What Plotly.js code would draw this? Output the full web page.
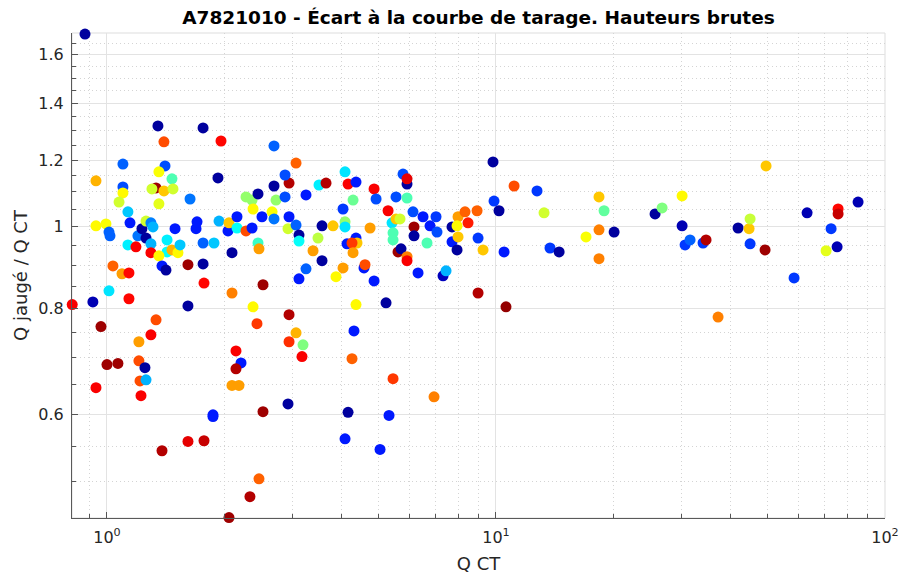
<!DOCTYPE html>
<html>
<head>
<meta charset="utf-8">
<script src="https://cdn.plot.ly/plotly-3.0.1.min.js"></script>
<style>html,body{margin:0;padding:0;background:#fff;}#chart{width:899px;height:574px;}</style>
</head>
<body>
<div id="chart"></div>
<script>
var chartTitle = 'A7821010 - Écart à la courbe de tarage. Hauteurs brutes';
var xTitle = 'Q CT';
var yTitle = 'Q jaugé / Q CT';

var qCT = [0.878,0.937,0.937,0.994,1.012,1.018,1.099,1.099,1.099,1.074,
1.132,1.146,1.132,1.187,1.201,1.230,1.260,1.260,1.297,1.313,
1.297,1.297,1.352,1.401,1.410,1.360,1.337,1.305,1.401,1.469,
1.478,1.360,1.427,1.427,1.360,1.385,1.418,1.469,1.522,1.541,
1.496,1.635,1.615,1.766,1.694,1.704,1.766,1.766,1.776,1.884,
1.929,1.964,1.941,2.047,2.096,2.059,2.159,2.159,2.277,2.277,
2.360,2.374,2.360,2.445,2.445,2.459,2.503,2.518,2.096,2.688,
2.688,2.657,2.688,2.720,2.938,2.869,2.869,2.938,2.920,3.062,
3.062,3.248,3.116,3.116,3.248,3.116,3.386,3.487,3.508,3.571,
3.571,3.657,3.811,3.879,4.044,4.044,4.092,4.092,4.092,4.140,
4.166,4.291,4.367,4.367,4.393,4.265,4.291,4.578,4.606,4.860,
4.918,4.746,4.860,5.216,5.279,5.404,5.437,5.437,5.534,5.666,
5.534,5.768,5.906,5.906,5.906,5.600,5.700,5.906,5.906,6.119,
6.156,6.156,6.304,6.493,6.648,6.767,7.053,7.012,7.310,7.441,
7.709,7.709,7.941,7.988,7.941,7.988,8.325,8.940,8.475,8.993,
9.262,9.826,9.885,10.18,10.49,11.13,12.75,13.29,13.77,14.53,
17.04,18.40,18.96,18.40,18.40,20.12,25.64,26.73,30.09,30.09,
30.63,31.54,34.06,34.67,41.91,44.73,45.00,45.00,49.17,49.46,
58.38,63.05,70.56,72.68,75.31,75.76,75.76,85.27,8.993,10.61,
37.23,5.437,2.920,4.166,5.309,4.092,5.034,6.930,2.374,4.367,
2.938,2.430,3.062,2.938,3.191,4.315,2.146,3.172,2.211,2.146,
4.265,2.096,2.184,1.036,1.093,1.139,1.012,1.139,0.920,0.814,
1.615,0.965,1.337,1.297,1.208,1.000,1.067,1.208,1.252,1.216,
1.260,0.937,1.223,2.518,1.873,1.873,1.385,1.615,1.776,2.459,
2.331,2.059];

var ratio = [1.692,1.134,1.003,1.008,0.986,0.976,1.187,1.115,1.097,1.070,
1.042,1.011,0.952,0.947,0.976,0.995,0.970,1.016,1.011,1.000,
0.955,0.932,1.317,1.261,1.181,1.162,1.112,1.109,1.103,1.140,
1.109,1.065,0.965,0.934,0.924,0.899,0.889,0.939,0.932,0.952,
0.995,1.079,0.902,1.310,0.995,1.014,0.957,0.904,0.858,0.957,
1.143,1.264,1.016,0.989,0.932,1.011,1.028,0.997,0.989,1.085,
1.076,1.050,0.997,1.094,0.957,0.942,1.028,0.854,0.835,1.247,
1.118,1.042,1.022,1.076,1.127,1.152,1.085,1.028,0.995,1.005,
1.190,1.091,0.978,0.962,0.892,0.868,0.937,0.970,1.121,1.003,
0.912,1.127,1.003,0.873,0.894,1.050,1.162,1.014,1.000,0.955,
1.124,1.076,1.130,0.970,0.957,0.957,0.932,0.894,0.902,1.109,
1.079,0.997,0.863,0.813,1.045,1.011,0.984,0.965,1.022,1.022,
1.085,1.155,1.124,1.140,1.082,0.934,0.942,0.922,0.912,1.042,
1.000,0.976,0.882,1.028,0.957,1.003,0.986,1.028,0.875,0.887,
1.000,0.960,0.939,1.028,1.003,0.973,1.042,1.045,1.011,0.970,
0.939,1.194,1.073,1.045,0.934,1.118,1.103,1.039,0.944,0.934,
0.973,1.085,1.045,0.992,0.917,0.986,1.036,1.053,1.088,1.003,
0.952,0.965,0.957,0.965,0.997,0.995,1.022,0.955,0.939,1.181,
0.870,1.039,0.937,0.995,0.947,1.050,1.036,1.070,0.835,0.804,
0.782,0.661,0.617,0.603,0.598,0.561,0.545,0.629,0.804,0.809,
0.787,0.768,0.749,0.731,0.725,0.753,0.713,0.702,0.690,0.679,
0.698,0.649,0.649,0.899,0.880,0.882,0.840,0.822,0.815,0.809,
0.806,0.762,0.776,0.745,0.731,0.687,0.689,0.694,0.681,0.657,
0.659,0.645,0.631,0.604,0.599,0.596,0.543,0.557,0.558,0.503,
0.479,0.4525];

var colorIndex = [0.03,0.70,0.63,0.62,0.22,0.22,0.22,0.20,0.63,0.58,
0.32,0.15,0.36,0.88,0.24,0.03,0.03,0.58,0.25,0.30,
0.30,0.88,0.03,0.80,0.20,0.62,0.97,0.58,0.68,0.45,
0.58,0.60,0.36,0.38,0.63,0.15,0.03,0.70,0.63,0.32,
0.15,0.24,0.97,0.03,0.15,0.15,0.22,0.03,0.87,0.32,
0.03,0.87,0.30,0.15,0.03,0.68,0.15,0.38,0.80,0.52,
0.52,0.63,0.15,0.03,0.43,0.72,0.15,0.97,0.75,0.22,
0.03,0.62,0.24,0.52,0.95,0.20,0.20,0.15,0.58,0.22,
0.78,0.15,0.03,0.38,0.22,0.15,0.72,0.56,0.36,0.03,
0.03,0.95,0.68,0.63,0.72,0.18,0.35,0.52,0.35,0.15,
0.88,0.48,0.15,0.15,0.68,0.82,0.72,0.15,0.80,0.88,
0.20,0.72,0.15,0.03,0.88,0.35,0.45,0.45,0.68,0.58,
0.20,0.20,0.03,0.90,0.45,0.97,0.03,0.75,0.88,0.20,
0.97,0.03,0.15,0.15,0.45,0.15,0.20,0.18,0.06,0.30,
0.03,0.15,0.03,0.72,0.63,0.68,0.78,0.78,0.85,0.18,
0.68,0.03,0.18,0.03,0.15,0.80,0.18,0.58,0.18,0.03,
0.62,0.68,0.47,0.75,0.75,0.03,0.03,0.50,0.63,0.05,
0.18,0.22,0.18,0.95,0.03,0.68,0.57,0.18,0.97,0.68,
0.18,0.05,0.60,0.18,0.05,0.87,0.93,0.05,0.95,0.98,
0.75,0.82,0.03,0.03,0.15,0.15,0.15,0.75,0.63,0.63,
0.95,0.82,0.70,0.83,0.50,0.15,0.88,0.88,0.15,0.95,
0.78,0.72,0.72,0.78,0.72,0.87,0.35,0.87,0.05,0.88,
0.03,0.97,0.80,0.88,0.72,0.97,0.97,0.80,0.03,0.80,
0.30,0.88,0.88,0.97,0.15,0.15,0.95,0.90,0.93,0.78,
0.95,0.97];

var xTickVals = [1, 10, 100];
var xTickText = ['10<sup>0</sup>', '10<sup>1</sup>', '10<sup>2</sup>'];
var xMinorVals = [0.9, 2, 3, 4, 5, 6, 7, 8, 9, 20, 30, 40, 50, 60, 70, 80, 90];
var yTickVals = [0.6, 0.8, 1, 1.2, 1.4, 1.6];
var yTickText = ['0.6', '0.8', '1', '1.2', '1.4', '1.6'];
var yMinorVals = [0.5, 0.55, 0.65, 0.7, 0.75, 0.85, 0.9, 0.95, 1.05, 1.1, 1.15, 1.25, 1.3, 1.35, 1.45, 1.5, 1.55, 1.65];

var jet = [[0, 'rgb(0,0,128)'], [0.125, 'rgb(0,0,255)'], [0.375, 'rgb(0,255,255)'],
           [0.625, 'rgb(255,255,0)'], [0.875, 'rgb(255,0,0)'], [1, 'rgb(128,0,0)']];

var trace = {
  type: 'scatter', mode: 'markers',
  x: qCT, y: ratio,
  cliponaxis: false,
  marker: {size: 11, color: colorIndex, colorscale: jet, cmin: 0, cmax: 1, showscale: false, line: {width: 0}},
  hoverinfo: 'x+y'
};

var axisCommon = {
  type: 'log',
  tickmode: 'array',
  ticks: 'inside', ticklen: 6, tickwidth: 1, tickcolor: '#555555',
  showline: true, linecolor: '#5a5a5a', linewidth: 1,
  showgrid: true, gridcolor: '#e3e3e3', gridwidth: 1,
  zeroline: false,
  tickfont: {family: 'DejaVu Sans', size: 16, color: '#262626'}
};

var minorCommon = {tickmode: 'array', ticks: 'inside', ticklen: 4, tickcolor: '#555555',
                   showgrid: true, gridcolor: '#d4d4d4', gridwidth: 1, griddash: '1px,3px'};

var layout = {
  width: 899, height: 574,
  margin: {l: 72, r: 14, t: 33, b: 56, pad: 0},
  paper_bgcolor: '#ffffff', plot_bgcolor: '#ffffff',
  font: {family: 'DejaVu Sans', color: '#262626'},
  showlegend: false,
  title: {text: '<b>' + chartTitle + '</b>', font: {family: 'DejaVu Sans', size: 18.5, color: '#000000'},
          x: 0.5, xref: 'paper', xanchor: 'center', y: 1 - 18 / 574, yref: 'container', yanchor: 'middle'},
  xaxis: Object.assign({}, axisCommon, {
    range: [Math.log10(0.813), 2],
    tickvals: xTickVals, ticktext: xTickText,
    ticklabelstandoff: 5,
    minor: Object.assign({}, minorCommon, {tickvals: xMinorVals}),
    title: {text: xTitle, font: {family: 'DejaVu Sans', size: 18, color: '#262626'}, standoff: 13}
  }),
  yaxis: Object.assign({}, axisCommon, {
    range: [Math.log10(0.452), Math.log10(1.697)],
    tickvals: yTickVals, ticktext: yTickText,
    minor: Object.assign({}, minorCommon, {tickvals: yMinorVals}),
    ticklabelstandoff: 4,
    title: {text: yTitle, font: {family: 'DejaVu Sans', size: 18, color: '#262626'}, standoff: 6}
  }),
  shapes: [{type: 'rect', xref: 'paper', yref: 'paper', x0: 0, x1: 1, y0: 0, y1: 1,
            line: {color: '#dddddd', width: 1}, layer: 'below'}]
};

Plotly.newPlot('chart', [trace], layout, {displayModeBar: false, staticPlot: true});
</script>
</body>
</html>
